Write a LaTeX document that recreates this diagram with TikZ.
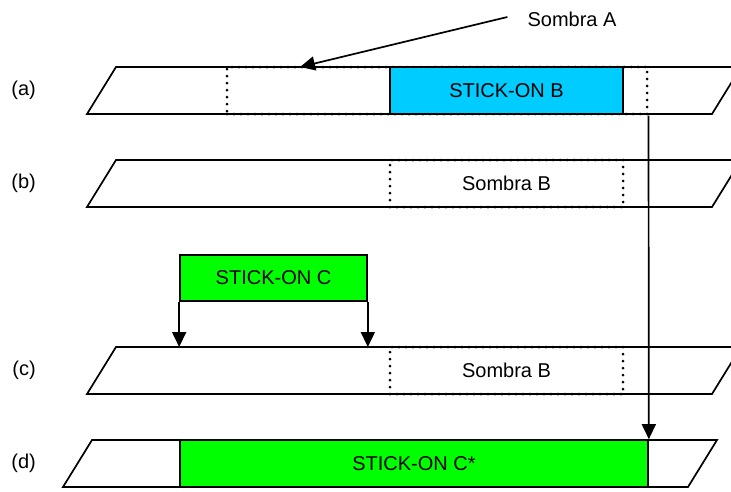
\documentclass[tikz,border=0pt]{standalone}
\usepackage{fontspec}
\setmainfont{Liberation Sans}
\usetikzlibrary{arrows.meta}
\definecolor{cyanB}{HTML}{00CCFF}
\definecolor{greenC}{HTML}{00FF00}
\begin{document}
\begin{tikzpicture}[x=1pt,y=-1pt,
  lbl/.style={inner sep=0pt,font=\fontsize{20}{24}\selectfont},
  band/.style={draw,line width=1.7pt,line join=miter},
  box/.style={draw,line width=1.7pt,inner sep=0pt,font=\fontsize{20}{24}\selectfont},
  shadowbox/.style={draw,line width=3pt,dash pattern=on 0pt off 7pt,line cap=round,inner sep=0pt,font=\fontsize{20}{24}\selectfont},
  arr/.style={line width=1.7pt,-{Triangle[width=14pt,length=15pt]}}]
\useasboundingbox (0,0) rectangle (731,491);
\clip (0,0) rectangle (731,491);
% row (a)
\node[lbl,anchor=east] (la) at (36,90.5) {(a)};
\draw[band] (87,114) -- (116,67) -- (741,67) -- (712,114) -- cycle;
\node[shadowbox,minimum width=420,minimum height=47] (SA) at (437,90.5) {};
\node[box,fill=cyanB,minimum width=233,minimum height=47] (B) at (506.5,90.5) {STICK-ON B};
\node[lbl] (saT) at (572,19) {Sombra A};
\coordinate (saTip) at (300,67);
\draw[arr] ([xshift=-20pt,yshift=2pt]saT.west) -- (saTip);
% row (b)
\node[lbl,anchor=east] (lb) at (36,183.5) {(b)};
\draw[band] (87,207) -- (116,160) -- (741,160) -- (712,207) -- cycle;
\node[shadowbox,minimum width=233,minimum height=47] (SB1) at (506.5,183.5) {Sombra B};
% stick-on C
\node[box,fill=greenC,minimum width=187,minimum height=46] (C) at (273.5,278) {STICK-ON C};
% row (c)
\node[lbl,anchor=east] (lc) at (36,370.5) {(c)};
\draw[band] (87,394) -- (116,347) -- (741,347) -- (712,394) -- cycle;
\coordinate (rowc) at (116,347);
\node[shadowbox,minimum width=233,minimum height=47] (SB2) at (506.5,370.5) {Sombra B};
\draw[arr] (C.south west) -- (C.south west |- rowc);
\draw[arr] (C.south east) -- (C.south east |- rowc);
% row (d)
\node[lbl,anchor=east] (ld) at (36,463.5) {(d)};
\draw[band] (63,487) -- (92,440) -- (717,440) -- (688,487) -- cycle;
\node[box,fill=greenC,minimum width=468,minimum height=47] (D) at (414,463.5) {STICK-ON C*};
\draw[arr] (SA.south east) -- (D.north east);
\end{tikzpicture}
\end{document}
